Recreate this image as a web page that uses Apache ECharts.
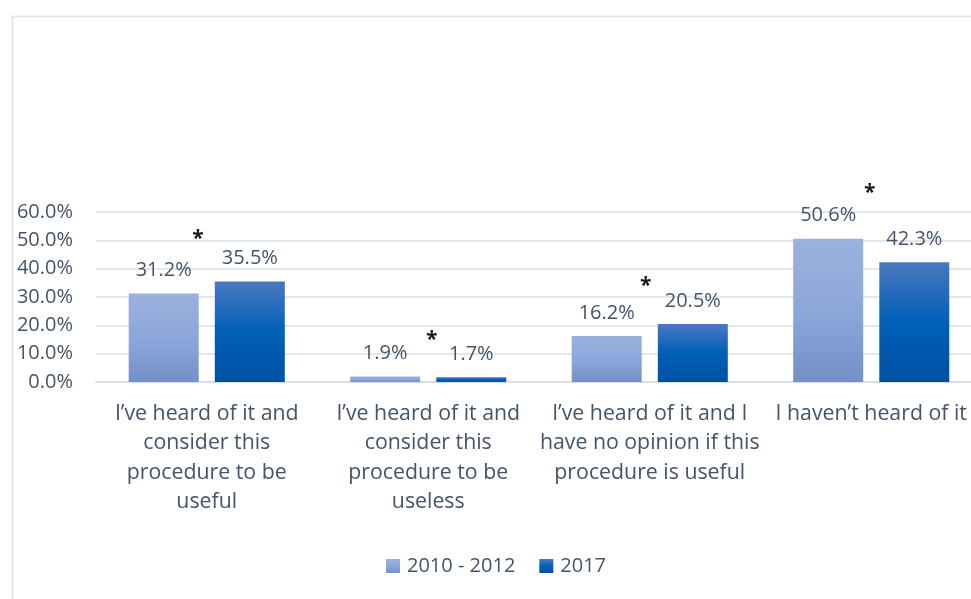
<!DOCTYPE html>
<html>
<head>
<meta charset="utf-8">
<script src="https://cdn.jsdelivr.net/npm/echarts@6/dist/echarts.min.js"></script>
<style>html,body{margin:0;padding:0;background:#fff;overflow:hidden;width:971px;height:599px;}#c{width:982px;height:599px;}</style>
</head>
<body>
<div id="c"></div>
<script>
var categories = [
  "I’ve heard of it and\nconsider this\nprocedure to be\nuseful",
  "I’ve heard of it and\nconsider this\nprocedure to be\nuseless",
  "I’ve heard of it and I\nhave no opinion if this\nprocedure is useful",
  "I haven’t heard of it"
];
var seriesNames = ["2010 - 2012", "2017"];
var values2010 = [31.2, 1.9, 16.2, 50.6];
var values2017 = [35.5, 1.7, 20.5, 42.3];
var starHeights = [51.0, 15.5, 34.5, 67.3];
var starShift = [-0.04, 0.016, -0.018, -0.007];
var yTicks = [0, 10, 20, 30, 40, 50, 60];

var FONT = "Open Sans";
var TXT = "#44546A";
var FS = 20;

var chart = echarts.init(document.getElementById('c'));
var lightGrad = new echarts.graphic.LinearGradient(0, 0, 0, 1, [
  {offset: 0, color: '#9BB2DE'},
  {offset: 0.5, color: '#8CA7DA'},
  {offset: 1, color: '#7490C8'}
]);
var darkGrad = new echarts.graphic.LinearGradient(0, 0, 0, 1, [
  {offset: 0, color: '#4A78C0'},
  {offset: 0.5, color: '#0060B8'},
  {offset: 1, color: '#0050A2'}
]);

chart.setOption({
  animation: false,
  backgroundColor: '#fff',
  textStyle: {fontFamily: FONT},
  graphic: [{
    type: 'rect', left: 10, top: 14, silent: true,
    shape: {width: 1200, height: 800},
    style: {fill: 'none', stroke: '#E1E6EC', lineWidth: 2}
  }],
  grid: {left: 96, top: 212, right: 0, bottom: 217, containLabel: false},
  legend: {
    left: 381, top: 551,
    itemWidth: 14, itemHeight: 14, itemGap: 24,
    textStyle: {fontFamily: FONT, fontSize: FS, color: TXT, padding: [0, 0, 0, 2]},
    data: seriesNames,
    icon: 'rect'
  },
  xAxis: {
    type: 'category',
    data: categories,
    axisLine: {show: true, lineStyle: {color: '#DADFE6', width: 2}},
    axisTick: {show: false},
    axisLabel: {
      interval: 0, margin: 17, fontFamily: FONT, fontSize: 21.3, color: TXT,
      lineHeight: 29.5, align: 'center'
    }
  },
  yAxis: {
    type: 'value', min: 0, max: 60, interval: 10,
    axisLine: {show: false}, axisTick: {show: false},
    splitLine: {lineStyle: {color: '#E3E6EA', width: 2}},
    axisLabel: {
      fontFamily: FONT, fontSize: FS, color: TXT, margin: 23,
      formatter: function (v) { return yTicks.indexOf(v) >= 0 ? v.toFixed(1) + '%' : ''; }
    }
  },
  series: [
    {
      name: seriesNames[0], type: 'bar', data: values2010,
      barWidth: 70, barGap: '23%',
      itemStyle: {color: lightGrad},
      label: {show: true, position: 'top', distance: 13, fontFamily: FONT, fontSize: FS, color: TXT,
        formatter: function (p) { return p.value.toFixed(1) + '%'; }}
    },
    {
      name: seriesNames[1], type: 'bar', data: values2017,
      barWidth: 70,
      itemStyle: {color: darkGrad},
      label: {show: true, position: 'top', distance: 13, fontFamily: FONT, fontSize: FS, color: TXT,
        formatter: function (p) { return p.value.toFixed(1) + '%'; }}
    },
    {
      type: 'custom', silent: true, clip: false, z: 5,
      data: starHeights.map(function (h, i) { return [i, h, starShift[i]]; }),
      renderItem: function (params, api) {
        var pt = api.coord([api.value(0), api.value(1)]);
        var band = api.size([1, 0])[0];
        return {
          type: 'text',
          style: {
            x: pt[0] + api.value(2) * band, y: pt[1] + 2, text: '*',
            font: 'bold 21px ' + FONT, fill: '#1a1a1a',
            textAlign: 'center', textVerticalAlign: 'middle'
          }
        };
      }
    }
  ]
});
</script>
</body>
</html>
